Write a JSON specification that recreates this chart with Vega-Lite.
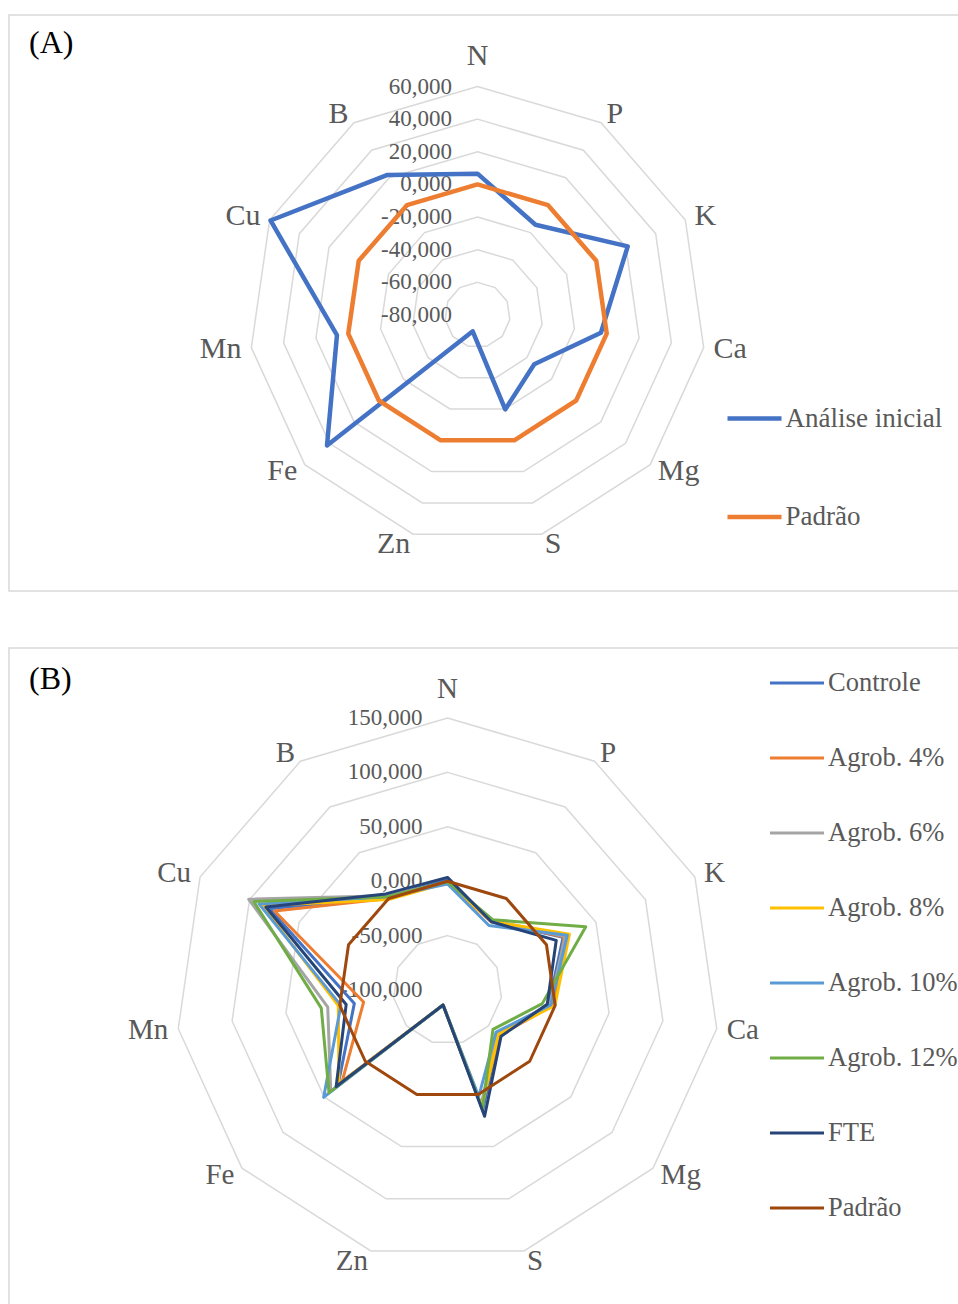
{
  "$schema": "https://vega.github.io/schema/vega-lite/v6.json",
  "padding": {"left": 8, "top": 14, "right": 0, "bottom": 0},
  "background": "white",
  "spacing": 55,
  "config": {
    "view": {"stroke": "#D9D9D9", "strokeWidth": 1.5},
    "font": "Liberation Serif",
    "locale": {"number": {"decimal": ",", "thousands": ".", "grouping": [3], "currency": ["", ""], "minus": "-"}},
    "title": {"font": "Liberation Serif", "fontSize": 32, "fontWeight": "normal", "color": "#000000", "anchor": "start", "frame": "group", "orient": "top", "baseline": "bottom"}
  },
  "datasets": {
    "elements": [{"el": "N"}, {"el": "P"}, {"el": "K"}, {"el": "Ca"}, {"el": "Mg"}, {"el": "S"}, {"el": "Zn"}, {"el": "Fe"}, {"el": "Mn"}, {"el": "Cu"}, {"el": "B"}],
    "ringsA": [
      {"ring": -80, "els": ["N","P","K","Ca","Mg","S","Zn","Fe","Mn","Cu","B"]},
      {"ring": -60, "els": ["N","P","K","Ca","Mg","S","Zn","Fe","Mn","Cu","B"]},
      {"ring": -40, "els": ["N","P","K","Ca","Mg","S","Zn","Fe","Mn","Cu","B"]},
      {"ring": -20, "els": ["N","P","K","Ca","Mg","S","Zn","Fe","Mn","Cu","B"]},
      {"ring": 0, "els": ["N","P","K","Ca","Mg","S","Zn","Fe","Mn","Cu","B"]},
      {"ring": 20, "els": ["N","P","K","Ca","Mg","S","Zn","Fe","Mn","Cu","B"]},
      {"ring": 40, "els": ["N","P","K","Ca","Mg","S","Zn","Fe","Mn","Cu","B"]},
      {"ring": 60, "els": ["N","P","K","Ca","Mg","S","Zn","Fe","Mn","Cu","B"]}
    ],
    "ringsB": [
      {"ring": -100, "els": ["N","P","K","Ca","Mg","S","Zn","Fe","Mn","Cu","B"]},
      {"ring": -50, "els": ["N","P","K","Ca","Mg","S","Zn","Fe","Mn","Cu","B"]},
      {"ring": 0, "els": ["N","P","K","Ca","Mg","S","Zn","Fe","Mn","Cu","B"]},
      {"ring": 50, "els": ["N","P","K","Ca","Mg","S","Zn","Fe","Mn","Cu","B"]},
      {"ring": 100, "els": ["N","P","K","Ca","Mg","S","Zn","Fe","Mn","Cu","B"]},
      {"ring": 150, "els": ["N","P","K","Ca","Mg","S","Zn","Fe","Mn","Cu","B"]}
    ],
    "seriesA": [
      {"series": "Análise inicial", "el": "N", "v": 6.6},
      {"series": "Análise inicial", "el": "P", "v": -14.3},
      {"series": "Análise inicial", "el": "K", "v": 21.2},
      {"series": "Análise inicial", "el": "Ca", "v": -3.6},
      {"series": "Análise inicial", "el": "Mg", "v": -34.0},
      {"series": "Análise inicial", "el": "S", "v": -19.7},
      {"series": "Análise inicial", "el": "Zn", "v": -69.6},
      {"series": "Análise inicial", "el": "Fe", "v": 42.0},
      {"series": "Análise inicial", "el": "Mn", "v": 7.0},
      {"series": "Análise inicial", "el": "Cu", "v": 59.4},
      {"series": "Análise inicial", "el": "B", "v": 22.0},
      {"series": "Padrão", "el": "N", "v": 0},
      {"series": "Padrão", "el": "P", "v": 0},
      {"series": "Padrão", "el": "K", "v": 0},
      {"series": "Padrão", "el": "Ca", "v": 0},
      {"series": "Padrão", "el": "Mg", "v": 0},
      {"series": "Padrão", "el": "S", "v": 0},
      {"series": "Padrão", "el": "Zn", "v": 0},
      {"series": "Padrão", "el": "Fe", "v": 0},
      {"series": "Padrão", "el": "Mn", "v": 0},
      {"series": "Padrão", "el": "Cu", "v": 0},
      {"series": "Padrão", "el": "B", "v": 0}
    ],
    "seriesB": [
      {"series": "Controle", "el": "N", "v": 1.5},
      {"series": "Controle", "el": "P", "v": -25.0},
      {"series": "Controle", "el": "K", "v": 16.8},
      {"series": "Controle", "el": "Ca", "v": -6.0},
      {"series": "Controle", "el": "Mg", "v": -37.0},
      {"series": "Controle", "el": "S", "v": 15.0},
      {"series": "Controle", "el": "Zn", "v": -85.6},
      {"series": "Controle", "el": "Fe", "v": 33.0},
      {"series": "Controle", "el": "Mn", "v": -13.5},
      {"series": "Controle", "el": "Cu", "v": 79.9},
      {"series": "Controle", "el": "B", "v": 2.0},
      {"series": "Agrob. 4%", "el": "N", "v": -1.0},
      {"series": "Agrob. 4%", "el": "P", "v": -25.5},
      {"series": "Agrob. 4%", "el": "K", "v": 18.0},
      {"series": "Agrob. 4%", "el": "Ca", "v": -1.7},
      {"series": "Agrob. 4%", "el": "Mg", "v": -36.5},
      {"series": "Agrob. 4%", "el": "S", "v": 10.0},
      {"series": "Agrob. 4%", "el": "Zn", "v": -85.6},
      {"series": "Agrob. 4%", "el": "Fe", "v": 28.0},
      {"series": "Agrob. 4%", "el": "Mn", "v": -22.1},
      {"series": "Agrob. 4%", "el": "Cu", "v": 74.8},
      {"series": "Agrob. 4%", "el": "B", "v": 0.0},
      {"series": "Agrob. 6%", "el": "N", "v": -1.0},
      {"series": "Agrob. 6%", "el": "P", "v": -24.0},
      {"series": "Agrob. 6%", "el": "K", "v": 19.0},
      {"series": "Agrob. 6%", "el": "Ca", "v": -5.0},
      {"series": "Agrob. 6%", "el": "Mg", "v": -40.0},
      {"series": "Agrob. 6%", "el": "S", "v": 10.0},
      {"series": "Agrob. 6%", "el": "Zn", "v": -85.6},
      {"series": "Agrob. 6%", "el": "Fe", "v": 42.0},
      {"series": "Agrob. 6%", "el": "Mn", "v": 11.2},
      {"series": "Agrob. 6%", "el": "Cu", "v": 100.8},
      {"series": "Agrob. 6%", "el": "B", "v": 3.0},
      {"series": "Agrob. 8%", "el": "N", "v": -1.5},
      {"series": "Agrob. 8%", "el": "P", "v": -25.0},
      {"series": "Agrob. 8%", "el": "K", "v": 23.2},
      {"series": "Agrob. 8%", "el": "Ca", "v": -0.3},
      {"series": "Agrob. 8%", "el": "Mg", "v": -38.0},
      {"series": "Agrob. 8%", "el": "S", "v": 12.0},
      {"series": "Agrob. 8%", "el": "Zn", "v": -85.6},
      {"series": "Agrob. 8%", "el": "Fe", "v": 32.0},
      {"series": "Agrob. 8%", "el": "Mn", "v": 1.4},
      {"series": "Agrob. 8%", "el": "Cu", "v": 87.0},
      {"series": "Agrob. 8%", "el": "B", "v": -1.0},
      {"series": "Agrob. 10%", "el": "N", "v": -2.5},
      {"series": "Agrob. 10%", "el": "P", "v": -29.5},
      {"series": "Agrob. 10%", "el": "K", "v": 21.0},
      {"series": "Agrob. 10%", "el": "Ca", "v": -4.0},
      {"series": "Agrob. 10%", "el": "Mg", "v": -41.0},
      {"series": "Agrob. 10%", "el": "S", "v": 2.0},
      {"series": "Agrob. 10%", "el": "Zn", "v": -85.6},
      {"series": "Agrob. 10%", "el": "Fe", "v": 50.6},
      {"series": "Agrob. 10%", "el": "Mn", "v": -1.0},
      {"series": "Agrob. 10%", "el": "Cu", "v": 90.5},
      {"series": "Agrob. 10%", "el": "B", "v": 2.0},
      {"series": "Agrob. 12%", "el": "N", "v": -0.5},
      {"series": "Agrob. 12%", "el": "P", "v": -23.2},
      {"series": "Agrob. 12%", "el": "K", "v": 39.7},
      {"series": "Agrob. 12%", "el": "Ca", "v": -12.0},
      {"series": "Agrob. 12%", "el": "Mg", "v": -44.7},
      {"series": "Agrob. 12%", "el": "S", "v": 14.0},
      {"series": "Agrob. 12%", "el": "Zn", "v": -85.6},
      {"series": "Agrob. 12%", "el": "Fe", "v": 44.1},
      {"series": "Agrob. 12%", "el": "Mn", "v": 17.2},
      {"series": "Agrob. 12%", "el": "Cu", "v": 95.8},
      {"series": "Agrob. 12%", "el": "B", "v": 2.0},
      {"series": "FTE", "el": "N", "v": 3.5},
      {"series": "FTE", "el": "P", "v": -25.5},
      {"series": "FTE", "el": "K", "v": 9.9},
      {"series": "FTE", "el": "Ca", "v": -7.4},
      {"series": "FTE", "el": "Mg", "v": -34.9},
      {"series": "FTE", "el": "S", "v": 21.0},
      {"series": "FTE", "el": "Zn", "v": -85.6},
      {"series": "FTE", "el": "Fe", "v": 35.4},
      {"series": "FTE", "el": "Mn", "v": -5.9},
      {"series": "FTE", "el": "Cu", "v": 83.5},
      {"series": "FTE", "el": "B", "v": 5.0},
      {"series": "Padrão", "el": "N", "v": 0},
      {"series": "Padrão", "el": "P", "v": 0},
      {"series": "Padrão", "el": "K", "v": 0},
      {"series": "Padrão", "el": "Ca", "v": 0},
      {"series": "Padrão", "el": "Mg", "v": 0},
      {"series": "Padrão", "el": "S", "v": 0},
      {"series": "Padrão", "el": "Zn", "v": 0},
      {"series": "Padrão", "el": "Fe", "v": 0},
      {"series": "Padrão", "el": "Mn", "v": 0},
      {"series": "Padrão", "el": "Cu", "v": 0},
      {"series": "Padrão", "el": "B", "v": 0}
    ]
  },
  "resolve": {"scale": {"x": "independent", "y": "independent", "color": "independent"}, "legend": {"color": "independent"}},
  "vconcat": [
    {
      "width": 955,
      "height": 576,
      "title": {"text": "(A)", "offset": -45, "dx": 20},
      "layer": [
        {
          "data": {"name": "ringsA"},
          "transform": [
            {"filter": "datum.ring > -80"},
            {"flatten": ["els"], "as": ["el"]},
            {"calculate": "indexof(['N','P','K','Ca','Mg','S','Zn','Fe','Mn','Cu','B'], datum.el)", "as": "idx"},
            {"calculate": "(datum.ring + 80) / 140 * 228.5", "as": "r"},
            {"calculate": "datum.r * sin(datum.idx * 2 * PI / 11)", "as": "px"},
            {"calculate": "datum.r * cos(datum.idx * 2 * PI / 11)", "as": "py"}
          ],
          "mark": {"type": "line", "interpolate": "linear-closed", "color": "#D9D9D9", "strokeWidth": 1.5},
          "encoding": {
            "x": {"field": "px", "type": "quantitative", "scale": {"domain": [-468.5, 486.5], "nice": false, "zero": false}, "axis": null},
            "y": {"field": "py", "type": "quantitative", "scale": {"domain": [-276, 300], "nice": false, "zero": false}, "axis": null},
            "detail": {"field": "ring", "type": "nominal"},
            "order": {"field": "idx", "type": "quantitative"}
          }
        },
        {
          "data": {"name": "ringsA"},
          "transform": [
            {"calculate": "(datum.ring + 80) / 140 * 228.5", "as": "r"}
          ],
          "mark": {"type": "text", "align": "right", "baseline": "middle", "dx": -25.5, "fontSize": 23, "color": "#595959", "font": "Liberation Serif"},
          "encoding": {
            "x": {"datum": 0, "type": "quantitative"},
            "y": {"field": "r", "type": "quantitative"},
            "text": {"field": "ring", "type": "quantitative", "format": ".3f"}
          }
        },
        {
          "data": {"name": "seriesA"},
          "transform": [
            {"calculate": "indexof(['N','P','K','Ca','Mg','S','Zn','Fe','Mn','Cu','B'], datum.el)", "as": "idx"},
            {"calculate": "(datum.v + 80) / 140 * 228.5", "as": "r"},
            {"calculate": "datum.r * sin(datum.idx * 2 * PI / 11)", "as": "px"},
            {"calculate": "datum.r * cos(datum.idx * 2 * PI / 11)", "as": "py"}
          ],
          "mark": {"type": "line", "interpolate": "linear-closed", "strokeWidth": 4.5, "strokeJoin": "round"},
          "encoding": {
            "x": {"field": "px", "type": "quantitative"},
            "y": {"field": "py", "type": "quantitative"},
            "order": {"field": "idx", "type": "quantitative"},
            "color": {
              "field": "series", "type": "nominal",
              "scale": {"domain": ["Análise inicial", "Padrão"], "range": ["#4472C4", "#ED7D31"]},
              "legend": {"orient": "none", "legendX": 716, "legendY": 374, "title": null, "symbolType": "stroke", "symbolSize": 2916, "symbolStrokeWidth": 4.5, "labelFont": "Liberation Serif", "labelFontSize": 27, "labelColor": "#595959", "labelOffset": 1.5, "labelLimit": 400, "rowPadding": 55.5, "padding": 0}
            }
          }
        },
        {
          "data": {"name": "elements"},
          "transform": [
            {"calculate": "indexof(['N','P','K','Ca','Mg','S','Zn','Fe','Mn','Cu','B'], datum.el)", "as": "idx"},
            {"filter": "datum.idx == 0"},
            {"calculate": "228.5 + 16", "as": "r"},
            {"calculate": "datum.r * sin(datum.idx * 2 * PI / 11)", "as": "px"},
            {"calculate": "datum.r * cos(datum.idx * 2 * PI / 11)", "as": "py"}
          ],
          "mark": {"type": "text", "align": "center", "baseline": "bottom", "fontSize": 30, "color": "#595959", "font": "Liberation Serif"},
          "encoding": {
            "x": {"field": "px", "type": "quantitative"},
            "y": {"field": "py", "type": "quantitative"},
            "text": {"field": "el"}
          }
        },
        {
          "data": {"name": "elements"},
          "transform": [
            {"calculate": "indexof(['N','P','K','Ca','Mg','S','Zn','Fe','Mn','Cu','B'], datum.el)", "as": "idx"},
            {"filter": "datum.idx >= 1 && datum.idx <= 5"},
            {"calculate": "228.5 + 10", "as": "r"},
            {"calculate": "datum.r * sin(datum.idx * 2 * PI / 11)", "as": "px"},
            {"calculate": "datum.r * cos(datum.idx * 2 * PI / 11)", "as": "py"}
          ],
          "mark": {"type": "text", "align": "left", "baseline": "middle", "fontSize": 30, "color": "#595959", "font": "Liberation Serif"},
          "encoding": {
            "x": {"field": "px", "type": "quantitative"},
            "y": {"field": "py", "type": "quantitative"},
            "text": {"field": "el"}
          }
        },
        {
          "data": {"name": "elements"},
          "transform": [
            {"calculate": "indexof(['N','P','K','Ca','Mg','S','Zn','Fe','Mn','Cu','B'], datum.el)", "as": "idx"},
            {"filter": "datum.idx >= 6"},
            {"calculate": "228.5 + 10", "as": "r"},
            {"calculate": "datum.r * sin(datum.idx * 2 * PI / 11)", "as": "px"},
            {"calculate": "datum.r * cos(datum.idx * 2 * PI / 11)", "as": "py"}
          ],
          "mark": {"type": "text", "align": "right", "baseline": "middle", "fontSize": 30, "color": "#595959", "font": "Liberation Serif"},
          "encoding": {
            "x": {"field": "px", "type": "quantitative"},
            "y": {"field": "py", "type": "quantitative"},
            "text": {"field": "el"}
          }
        }
      ]
    },
    {
      "width": 955,
      "height": 662,
      "title": {"text": "(B)", "offset": -48, "dx": 20},
      "layer": [
        {
          "data": {"name": "ringsB"},
          "transform": [
            {"filter": "datum.ring > -100"},
            {"flatten": ["els"], "as": ["el"]},
            {"calculate": "indexof(['N','P','K','Ca','Mg','S','Zn','Fe','Mn','Cu','B'], datum.el)", "as": "idx"},
            {"calculate": "(datum.ring + 100) / 250 * 272", "as": "r"},
            {"calculate": "datum.r * sin(datum.idx * 2 * PI / 11)", "as": "px"},
            {"calculate": "datum.r * cos(datum.idx * 2 * PI / 11)", "as": "py"}
          ],
          "mark": {"type": "line", "interpolate": "linear-closed", "color": "#D9D9D9", "strokeWidth": 1.5},
          "encoding": {
            "x": {"field": "px", "type": "quantitative", "scale": {"domain": [-438.5, 516.5], "nice": false, "zero": false}, "axis": null},
            "y": {"field": "py", "type": "quantitative", "scale": {"domain": [-320, 342], "nice": false, "zero": false}, "axis": null},
            "detail": {"field": "ring", "type": "nominal"},
            "order": {"field": "idx", "type": "quantitative"}
          }
        },
        {
          "data": {"name": "ringsB"},
          "transform": [
            {"calculate": "(datum.ring + 100) / 250 * 272", "as": "r"}
          ],
          "mark": {"type": "text", "align": "right", "baseline": "middle", "dx": -25, "fontSize": 23, "color": "#595959", "font": "Liberation Serif"},
          "encoding": {
            "x": {"datum": 0, "type": "quantitative"},
            "y": {"field": "r", "type": "quantitative"},
            "text": {"field": "ring", "type": "quantitative", "format": ".3f"}
          }
        },
        {
          "data": {"name": "seriesB"},
          "transform": [
            {"calculate": "indexof(['N','P','K','Ca','Mg','S','Zn','Fe','Mn','Cu','B'], datum.el)", "as": "idx"},
            {"calculate": "(datum.v + 100) / 250 * 272", "as": "r"},
            {"calculate": "datum.r * sin(datum.idx * 2 * PI / 11)", "as": "px"},
            {"calculate": "datum.r * cos(datum.idx * 2 * PI / 11)", "as": "py"}
          ],
          "mark": {"type": "line", "interpolate": "linear-closed", "strokeWidth": 3, "strokeJoin": "round"},
          "encoding": {
            "x": {"field": "px", "type": "quantitative"},
            "y": {"field": "py", "type": "quantitative"},
            "order": {"field": "idx", "type": "quantitative"},
            "color": {
              "field": "series", "type": "nominal",
              "scale": {"domain": ["Controle", "Agrob. 4%", "Agrob. 6%", "Agrob. 8%", "Agrob. 10%", "Agrob. 12%", "FTE", "Padrão"], "range": ["#4472C4", "#ED7D31", "#A5A5A5", "#FFC000", "#5B9BD5", "#70AD47", "#264478", "#9E480E"]},
              "legend": {"orient": "none", "legendX": 759.5, "legendY": 6.5, "title": null, "symbolType": "stroke", "symbolSize": 2916, "symbolStrokeWidth": 3, "labelFont": "Liberation Serif", "labelFontSize": 26.5, "labelColor": "#595959", "labelOffset": 2.5, "labelLimit": 400, "rowPadding": 33, "padding": 0}
            }
          }
        },
        {
          "data": {"name": "elements"},
          "transform": [
            {"calculate": "indexof(['N','P','K','Ca','Mg','S','Zn','Fe','Mn','Cu','B'], datum.el)", "as": "idx"},
            {"filter": "datum.idx == 0"},
            {"calculate": "272 + 14", "as": "r"},
            {"calculate": "datum.r * sin(datum.idx * 2 * PI / 11)", "as": "px"},
            {"calculate": "datum.r * cos(datum.idx * 2 * PI / 11)", "as": "py"}
          ],
          "mark": {"type": "text", "align": "center", "baseline": "bottom", "fontSize": 29, "color": "#595959", "font": "Liberation Serif"},
          "encoding": {
            "x": {"field": "px", "type": "quantitative"},
            "y": {"field": "py", "type": "quantitative"},
            "text": {"field": "el"}
          }
        },
        {
          "data": {"name": "elements"},
          "transform": [
            {"calculate": "indexof(['N','P','K','Ca','Mg','S','Zn','Fe','Mn','Cu','B'], datum.el)", "as": "idx"},
            {"filter": "datum.idx >= 1 && datum.idx <= 5"},
            {"calculate": "272 + 10", "as": "r"},
            {"calculate": "datum.r * sin(datum.idx * 2 * PI / 11)", "as": "px"},
            {"calculate": "datum.r * cos(datum.idx * 2 * PI / 11)", "as": "py"}
          ],
          "mark": {"type": "text", "align": "left", "baseline": "middle", "fontSize": 29, "color": "#595959", "font": "Liberation Serif"},
          "encoding": {
            "x": {"field": "px", "type": "quantitative"},
            "y": {"field": "py", "type": "quantitative"},
            "text": {"field": "el"}
          }
        },
        {
          "data": {"name": "elements"},
          "transform": [
            {"calculate": "indexof(['N','P','K','Ca','Mg','S','Zn','Fe','Mn','Cu','B'], datum.el)", "as": "idx"},
            {"filter": "datum.idx >= 6"},
            {"calculate": "272 + 10", "as": "r"},
            {"calculate": "datum.r * sin(datum.idx * 2 * PI / 11)", "as": "px"},
            {"calculate": "datum.r * cos(datum.idx * 2 * PI / 11)", "as": "py"}
          ],
          "mark": {"type": "text", "align": "right", "baseline": "middle", "fontSize": 29, "color": "#595959", "font": "Liberation Serif"},
          "encoding": {
            "x": {"field": "px", "type": "quantitative"},
            "y": {"field": "py", "type": "quantitative"},
            "text": {"field": "el"}
          }
        }
      ]
    }
  ]
}
